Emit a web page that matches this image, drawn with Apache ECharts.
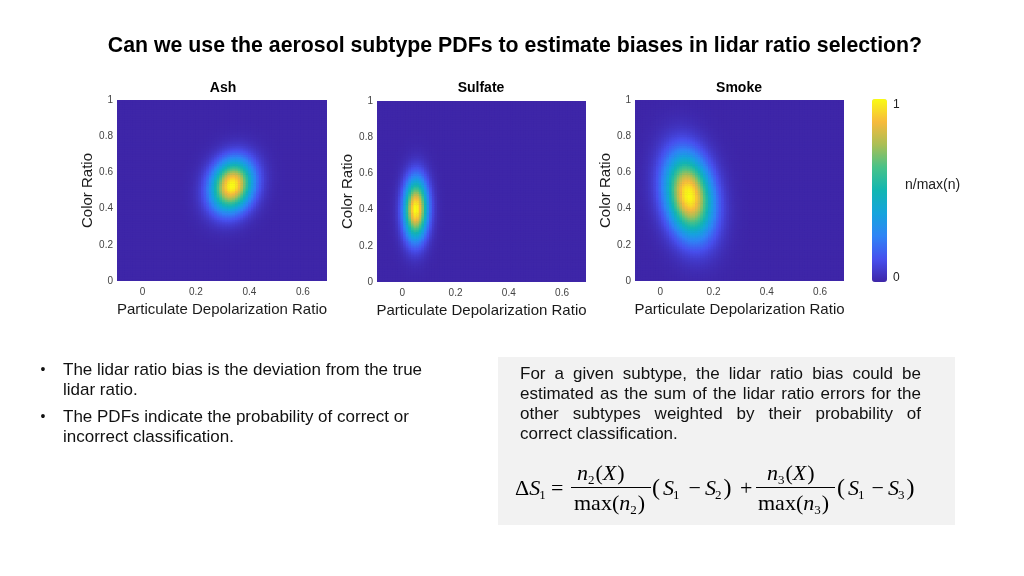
<!DOCTYPE html>
<html>
<head>
<meta charset="UTF-8">
<script src="https://cdn.jsdelivr.net/npm/echarts@6/dist/echarts.min.js"></script>
<style>
    html, body { margin: 0; padding: 0; background: #fff; }
    #chart { width: 1024px; height: 576px; }
</style>
</head>
<body>
<div id="chart"></div>
<script>
    /* subtype PDFs: peak and spread */
    var subtypeNames = ['Ash', 'Sulfate', 'Smoke'];
    var peakDepol = [0.335, 0.051, 0.108];
    var peakColor = [0.53, 0.405, 0.475];
    var spreadDepol = [0.053, 0.03, 0.06];
    var spreadColor = [0.095, 0.112, 0.152];
    var tiltCorr = [0.15, 0.03, -0.2];

    var depolTicks = [0, 0.2, 0.4, 0.6];
    var colorTicks = [0, 0.2, 0.4, 0.6, 0.8, 1];
    var depolRange = [-0.095, 0.69];
    var colorRange = [0, 1];
    var cellCounts = [80, 100];

    var parula = ['#3e26a8', '#4750ee', '#2f84f6', '#15a4dd', '#12b6b2', '#47c289', '#aabf55', '#f7ba3c', '#f9fb14'];

    var cellW = (depolRange[1] - depolRange[0]) / cellCounts[0];
    var cellH = (colorRange[1] - colorRange[0]) / cellCounts[1];

    /* n/max(n) grid for one subtype */
    function buildField(k) {
        var out = [], top = 0;
        for (var i = 0; i < cellCounts[0]; i++) {
            for (var j = 0; j < cellCounts[1]; j++) {
                var x = depolRange[0] + (i + 0.5) * cellW;
                var y = colorRange[0] + (j + 0.5) * cellH;
                var zx = (x - peakDepol[k]) / spreadDepol[k];
                var zy = (y - peakColor[k]) / spreadColor[k];
                var r = tiltCorr[k];
                var q = (zx * zx - 2 * r * zx * zy + zy * zy) / (1 - r * r);
                var n = Math.exp(-0.5 * q);
                if (n > top) top = n;
                out.push([x, y, n]);
            }
        }
        out.forEach(function (d) { d[2] = d[2] / top; });
        return out;
    }

    function renderCell(params, api) {
        var p = api.coord([api.value(0), api.value(1)]);
        var s = api.size([cellW, cellH]);
        return {
            type: 'rect',
            shape: {x: p[0] - s[0] / 2, y: p[1] - s[1] / 2, width: s[0] + 0.6, height: s[1] + 0.6},
            style: {fill: api.visual('color')},
            silent: true
        };
    }

    var gridBoxes = [[117, 100, 210, 181], [377, 101, 209, 181], [635, 100, 209, 181]];
    var sans = 'Liberation Sans', serif = 'Liberation Serif';

    var grids = [], xAxes = [], yAxes = [], series = [];
    gridBoxes.forEach(function (b, k) {
        grids.push({left: b[0], top: b[1], width: b[2], height: b[3], show: true,
            backgroundColor: parula[0], borderWidth: 0});
        xAxes.push({
            type: 'value', gridIndex: k, min: depolRange[0], max: depolRange[1],
            name: 'Particulate Depolarization Ratio', nameLocation: 'middle', nameGap: 21,
            nameTextStyle: {fontSize: 15, color: '#1a1a1a', fontFamily: sans},
            axisLine: {show: false}, axisTick: {show: false}, splitLine: {show: false},
            axisLabel: {customValues: depolTicks, fontSize: 10, color: '#444', fontFamily: sans, margin: 6}
        });
        yAxes.push({
            type: 'value', gridIndex: k, min: colorRange[0], max: colorRange[1], interval: 0.2,
            name: 'Color Ratio', nameLocation: 'middle', nameGap: 22,
            nameTextStyle: {fontSize: 15, color: '#1a1a1a', fontFamily: sans},
            axisLine: {show: false}, axisTick: {show: false}, splitLine: {show: false},
            axisLabel: {customValues: colorTicks, fontSize: 10, color: '#444', fontFamily: sans, margin: 4}
        });
        series.push({
            type: 'custom', name: subtypeNames[k], xAxisIndex: k, yAxisIndex: k,
            data: buildField(k), encode: {x: 0, y: 1}, renderItem: renderCell,
            clip: true, progressive: 0, animation: false, silent: true
        });
    });

    /* text helpers */
    var measureCtx = document.createElement('canvas').getContext('2d');
    function textWidth(str, size, family, italic, bold) {
        measureCtx.font = (italic ? 'italic ' : '') + (bold ? 'bold ' : '') + size + 'px "' + family + '"';
        return measureCtx.measureText(str).width;
    }
    function txt(x, y, str, size, opts) {
        opts = opts || {};
        return {
            type: 'text', x: x, y: y, silent: true,
            style: {
                text: str, fontSize: size, fontFamily: opts.family || sans,
                fontWeight: opts.bold ? 'bold' : 'normal', fontStyle: opts.italic ? 'italic' : 'normal',
                fill: opts.color || '#111',
                align: opts.align || 'left', verticalAlign: 'middle',
                textAlign: opts.align || 'left', textVerticalAlign: 'middle'
            }
        };
    }
    function justify(line, x0, x1, y, size) {
        var words = line.split(' ');
        var widths = words.map(function (w) { return textWidth(w, size, sans); });
        var total = widths.reduce(function (a, b) { return a + b; }, 0);
        var gap = (x1 - x0 - total) / (words.length - 1);
        var x = x0, out = [];
        words.forEach(function (w, i) {
            out.push(txt(x, y, w, size));
            x += widths[i] + gap;
        });
        return out;
    }
    /* tokens: [text, size, italic, dy, gapAfter] */
    function run(tokens, x, y) {
        var out = [];
        tokens.forEach(function (t) {
            out.push(txt(x, y + (t[3] || 0), t[0], t[1], {family: serif, italic: t[2], color: '#000'}));
            x += textWidth(t[0], t[1], serif, t[2]) + (t[4] || 0);
        });
        return out;
    }

    var graphics = [];
    graphics.push(txt(515, 46, 'Can we use the aerosol subtype PDFs to estimate biases in lidar ratio selection?', 21.3,
        {bold: true, align: 'center', color: '#000'}));
    var titleX = [223, 481, 739];
    subtypeNames.forEach(function (n, k) {
        graphics.push(txt(titleX[k], 88, n, 14, {bold: true, align: 'center', color: '#000'}));
    });

    /* colorbar labels */
    graphics.push(txt(893, 105, '1', 12, {color: '#222'}));
    graphics.push(txt(893, 278, '0', 12, {color: '#222'}));
    graphics.push(txt(905, 185, 'n/max(n)', 14, {color: '#222'}));

    /* bullets */
    var bulletLines = [
        ['The lidar ratio bias is the deviation from the true', 'lidar ratio.'],
        ['The PDFs indicate the probability of correct or', 'incorrect classification.']
    ];
    var bulletY = [370, 417];
    bulletLines.forEach(function (b, k) {
        graphics.push(txt(43, bulletY[k], '•', 14, {align: 'center'}));
        graphics.push(txt(63, bulletY[k], b[0], 17));
        graphics.push(txt(63, bulletY[k] + 20.5, b[1], 17));
    });

    /* right box */
    graphics.push({type: 'rect', shape: {x: 498, y: 357, width: 457, height: 168}, style: {fill: '#f2f2f2'}, silent: true, z: -1});
    var paraLines = [
        'For a given subtype, the lidar ratio bias could be',
        'estimated as the sum of the lidar ratio errors for the',
        'other subtypes weighted by their probability of',
        'correct classification.'
    ];
    paraLines.forEach(function (l, k) {
        var y = 374 + k * 20.2;
        if (k < paraLines.length - 1) graphics = graphics.concat(justify(l, 520, 921, y, 17));
        else graphics.push(txt(520, y, l, 17));
    });

    /* formula */
    var M = 22, s = 13;
    graphics = graphics.concat(run([['Δ', M, false], ['S', M, true, 0, -1], ['1', s, false, 7]], 515, 489));
    graphics = graphics.concat(run([['=', M, false]], 551, 489));
    graphics = graphics.concat(run([['n', M, true], ['2', s, false, 7, 1], ['(', M, false], ['X', M, true, 0, 1], [')', M, false]], 577, 474));
    graphics = graphics.concat(run([['max(', M, false], ['n', M, true], ['2', s, false, 7, 1], [')', M, false]], 574, 504));
    graphics = graphics.concat(run([['(', 24, false, 0, 3], ['S', M, true, 0, -1], ['1', s, false, 7, 9], ['−', M, false, 0, 4],
        ['S', M, true, 0, -1], ['2', s, false, 7, 2], [')', 24, false]], 652, 489));
    graphics = graphics.concat(run([['+', M, false]], 740, 489));
    graphics = graphics.concat(run([['n', M, true], ['3', s, false, 7, 1], ['(', M, false], ['X', M, true, 0, 1], [')', M, false]], 767, 474));
    graphics = graphics.concat(run([['max(', M, false], ['n', M, true], ['3', s, false, 7, 1], [')', M, false]], 758, 504));
    graphics = graphics.concat(run([['(', 24, false, 0, 3], ['S', M, true, 0, -1], ['1', s, false, 7, 7], ['−', M, false, 0, 4],
        ['S', M, true, 0, -1], ['3', s, false, 7, 2], [')', 24, false]], 837, 489));
    graphics.push({type: 'line', shape: {x1: 571, y1: 487.5, x2: 651, y2: 487.5}, style: {stroke: '#000', lineWidth: 1}, silent: true});
    graphics.push({type: 'line', shape: {x1: 756, y1: 487.5, x2: 835, y2: 487.5}, style: {stroke: '#000', lineWidth: 1}, silent: true});

    var chart = echarts.init(document.getElementById('chart'));
    chart.setOption({
        animation: false,
        backgroundColor: '#fff',
        grid: grids,
        xAxis: xAxes,
        yAxis: yAxes,
        visualMap: {
            type: 'continuous', min: 0, max: 1, dimension: 2, seriesIndex: [0, 1, 2],
            calculable: false, realtime: false, left: 872, top: 99, itemWidth: 15, itemHeight: 183,
            padding: 0, inRange: {color: parula}
        },
        graphic: graphics,
        series: series
    });
</script>
</body>
</html>
